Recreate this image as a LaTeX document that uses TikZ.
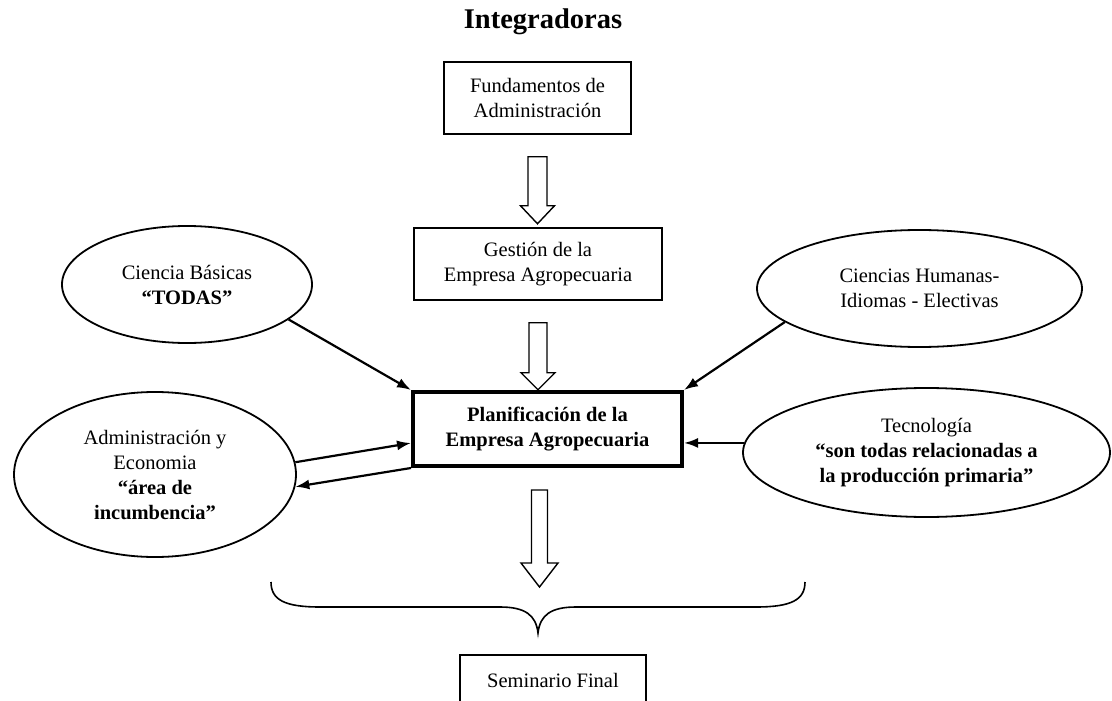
\documentclass[tikz,border=0pt]{standalone}
\usepackage{fontspec}
\setmainfont{Liberation Serif}
\usetikzlibrary{shapes.geometric,arrows.meta,calc}
\begin{document}
\begin{tikzpicture}[x=1pt,y=-1pt,
  txt/.style={font=\fontsize{20.5}{25}\selectfont, align=center},
  box/.style={txt, draw, line width=1.5pt, inner sep=0pt},
  ell/.style={txt, ellipse, draw, line width=1.8pt, inner sep=0pt},
  conn/.style={line width=2.2pt, -{Latex[length=14pt,width=10pt]}},
  hol/.style={line width=1.4pt, line join=miter},
  bracestyle/.style={line width=1.6pt}]
\useasboundingbox (0,0) rectangle (1112,701);
\clip (0,0) rectangle (1112,701);

\node[font=\fontsize{28.5}{32}\selectfont\bfseries, anchor=base] (title) at (543,29) {Integradoras};

\node[box, minimum width=187pt, minimum height=72pt] (fund) at (537.5,98) {Fundamentos de\\Administración};
\node[box, minimum width=248pt, minimum height=72pt] (gest) at (538,264) {Gestión de la\\Empresa Agropecuaria};
\node[box, line width=4pt, minimum width=269pt, minimum height=74pt] (plan) at (547.5,429) {\textbf{Planificación de la}\\\textbf{Empresa Agropecuaria}};
\node[txt, inner sep=0pt, minimum width=186pt, minimum height=50pt] (sem) at (553,680) {Seminario Final};
\draw[line width=1.5pt] ($(sem.south west)+(0,20)$) -- (sem.north west) -- (sem.north east) -- ($(sem.south east)+(0,20)$);

\node[ell, minimum width=250pt, minimum height=117pt] (cb) at (187,284.5) {Ciencia Básicas\\\textbf{“TODAS”}};
\node[ell, minimum width=325pt, minimum height=117pt] (ch) at (919.5,288.5) {Ciencias Humanas-\\Idiomas - Electivas};
\node[ell, minimum width=282pt, minimum height=165pt] (adm) at (155,474.5) {Administración y\\Economia\\\textbf{“área de}\\\textbf{incumbencia”}};
\node[ell, minimum width=367pt, minimum height=129pt] (tec) at (926.5,452.5) {Tecnología\\\textbf{“son todas relacionadas a}\\\textbf{la producción primaria”}};

% hollow block arrows
\draw[hol] ($(fund.south)+(-9.5,22)$) -- ++(0,49) -- ++(-7.5,0) -- ++(17,18) -- ++(17,-18) -- ++(-7.5,0) -- ++(0,-49) -- cycle;
\draw[hol] ($(gest.south)+(-9,22)$) -- ++(0,50) -- ++(-8,0) -- ++(17,17) -- ++(17,-17) -- ++(-8,0) -- ++(0,-50) -- cycle;
\draw[hol] ($(plan.south)+(-16,22)$) -- ++(0,73) -- ++(-10.5,0) -- ++(18.5,24) -- ++(18.5,-24) -- ++(-10.5,0) -- ++(0,-73) -- cycle;

% connectors
\draw[conn] (cb.-19) -- (plan.north west);
\draw[conn] (ch.194) -- (plan.north east);
\draw[conn] (adm.5) -- ($(plan.south west)!0.32!(plan.north west)$);
\draw[conn] (plan.south west) -- (adm.-5);
\draw[conn] (tec.177) -- (tec.177 -| plan.east);

% brace
\coordinate (btip) at (538,633);
\draw[bracestyle] (271,582) .. controls (271,600) and (285,607) .. (320,607) -- (500,607) .. controls (525,607) and (536,615) .. (btip)
  .. controls (540,615) and (551,607) .. (576,607) -- (756,607) .. controls (791,607) and (805,600) .. (805,582);
\end{tikzpicture}
\end{document}
